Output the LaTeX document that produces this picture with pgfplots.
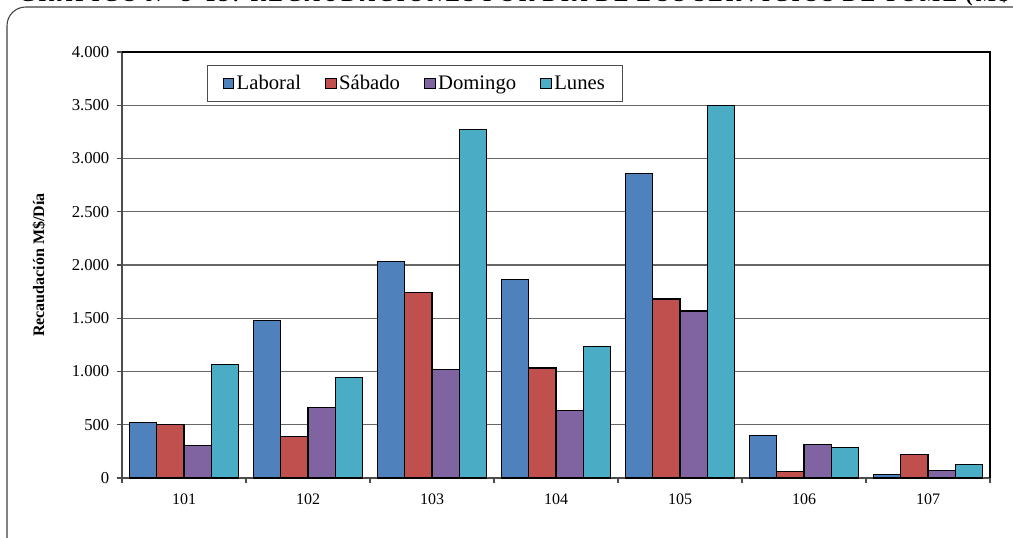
\documentclass[border=0pt]{standalone}
\usepackage{pgfplots}
\pgfplotsset{compat=1.18}
\usepackage{fontspec}
\setmainfont{Liberation Serif}
\definecolor{cLab}{HTML}{4F81BD}
\definecolor{cSab}{HTML}{C0504D}
\definecolor{cDom}{HTML}{8064A2}
\definecolor{cLun}{HTML}{4BACC6}
\begin{document}
\begin{tikzpicture}
\path[use as bounding box] (0,0) rectangle (759.75pt,402.75pt);
\clip (0,0) rectangle (759.75pt,402.75pt);
\node[anchor=base east, font=\fontsize{16}{18}\selectfont\bfseries\addfontfeature{LetterSpace=14}, inner sep=0pt] at (765pt,401.5pt) {GRÁFICO N° 5-13: RECAUDACIONES POR DÍA DE LOS SERVICIOS DE TOMÉ (M\$)};
\draw[black!75, line width=0.8pt, rounded corners=14pt] (5.25pt,397.5pt) rectangle (790pt,-20pt);
\begin{axis}[
  at={(91.5pt,44.25pt)}, anchor=south west,
  scale only axis, width=651pt, height=319.5pt,
  ybar=0pt, bar width=0.22,
  xmin=0.5, xmax=7.5, ymin=0, ymax=4000,
  xtick={1,2,3,4,5,6,7},
  xticklabels={101,102,103,104,105,106,107},
  minor xtick={0.5,1.5,2.5,3.5,4.5,5.5,6.5,7.5},
  major x tick style={draw=none},
  minor tick length=4pt,
  major tick length=4pt,
  tick align=outside,
  xtick pos=bottom, ytick pos=left,
  ytick={0,500,...,4000},
  ymajorgrids, grid style={black!60, line width=0.8pt},
  /pgf/number format/assume math mode=true,
  /pgf/number format/.cd, 1000 sep={.}, /pgfplots/.cd,
  scaled y ticks=false,
  xticklabel style={font=\fontsize{12}{14}\selectfont, yshift=-4pt},
  yticklabel style={font=\fontsize{12.5}{14}\selectfont, xshift=-2pt},
  axis line style={black!70, line width=0.8pt},
  tick style={black!70, line width=0.8pt},
  ylabel={Recaudación M\$/Día},
  ylabel style={font=\fontsize{12}{14}\selectfont\bfseries, at={(axis description cs:-0.0956,0.5)}, anchor=center},
  legend columns=4,
  legend style={at={(0.3376,0.926)}, anchor=center, draw=black!70, line width=0.8pt,
    font=\fontsize{15.5}{17}\selectfont, inner xsep=11pt, inner ysep=5.5pt,
    /tikz/every even column/.append style={column sep=16pt}},
  legend image code/.code={\draw[#1, line width=0.6pt] (0pt,-4pt) rectangle (8pt,4pt);},
  every axis plot/.append style={draw=black, line width=0.8pt},
]
\addplot[fill=cLab] coordinates {(1,525) (2,1481) (3,2035) (4,1863) (5,2858) (6,401) (7,31)};
\addplot[fill=cSab] coordinates {(1,500) (2,389) (3,1741) (4,1033) (5,1681) (6,62) (7,221)};
\addplot[fill=cDom] coordinates {(1,305) (2,659) (3,1023) (4,638) (5,1568) (6,317) (7,72)};
\addplot[fill=cLun] coordinates {(1,1070) (2,948) (3,3270) (4,1239) (5,3502) (6,286) (7,124)};
\legend{Laboral,Sábado,Domingo,Lunes}
\end{axis}
\draw[black, line width=0.8pt] (91.5pt,363.75pt) -- (742.5pt,363.75pt) -- (742.5pt,44.25pt);
\end{tikzpicture}
\end{document}
